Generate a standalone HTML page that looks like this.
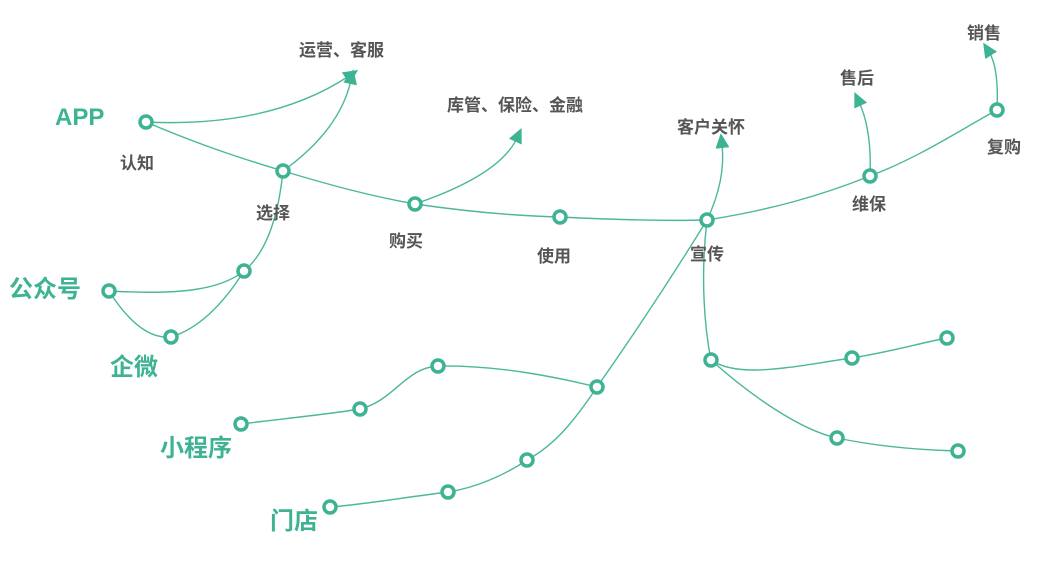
<!DOCTYPE html>
<html><head><meta charset="utf-8"><style>
body{margin:0;background:#fff}
svg text{font-family:"Liberation Sans","Noto Sans CJK SC",sans-serif;font-weight:bold}
</style></head><body>
<svg width="1050" height="564" viewBox="0 0 1050 564" xmlns="http://www.w3.org/2000/svg">
<defs><marker id="a" markerWidth="16" markerHeight="14" refX="4" refY="7" orient="auto" markerUnits="userSpaceOnUse"><path d="M0,0 L15,7 L0,14 z" fill="#3db394"/></marker></defs>
<g fill="none" stroke="#4cb79a" stroke-width="1.4">
<path d="M146,122 C200,145 240,158 283,171 C330,185 370,196 415,204 C470,212 520,216 560,217 C620,220 670,221 707,220 C770,210 820,196 870,176 C920,157 960,130 997,110"/>
<path d="M146,122 Q270,128 349,76" marker-end="url(#a)"/>
<path d="M283,171 Q340,130 351,80" marker-end="url(#a)"/>
<path d="M415,204 Q500,175 517,138" marker-end="url(#a)"/>
<path d="M707,220 Q726,180 722,144" marker-end="url(#a)"/>
<path d="M870,176 Q872,130 859,102" marker-end="url(#a)"/>
<path d="M997,110 Q999,68 989,52" marker-end="url(#a)"/>
<path d="M109,291 C180,295 220,290 244,271 C272,248 280,200 283,171"/>
<path d="M109,291 Q140,340 171,337 Q210,325 244,271"/>
<path d="M707,220 C670,280 630,340 597,387 C575,420 555,445 527,460 C505,475 475,488 448,492 C400,498 360,505 330,507"/>
<path d="M241,424 C290,418 330,414 360,409 C395,400 405,368 438,366 C500,365 560,378 597,387"/>
<path d="M707,220 C700,280 705,330 711,360 C740,380 800,365 852,358 C890,352 920,343 947,338"/>
<path d="M711,360 C750,395 800,430 837,438 C880,447 920,450 958,451"/>
</g>
<g fill="#fff" stroke="#3db394" stroke-width="3.5">
<circle cx="146" cy="122" r="6"/><circle cx="283" cy="171" r="6"/><circle cx="415" cy="204" r="6"/>
<circle cx="560" cy="217" r="6"/><circle cx="707" cy="220" r="6"/><circle cx="870" cy="176" r="6"/>
<circle cx="997" cy="110" r="6"/><circle cx="109" cy="291" r="6"/><circle cx="171" cy="337" r="6"/>
<circle cx="244" cy="271" r="6"/><circle cx="241" cy="424" r="6"/><circle cx="360" cy="409" r="6"/>
<circle cx="438" cy="366" r="6"/><circle cx="597" cy="387" r="6"/><circle cx="527" cy="460" r="6"/>
<circle cx="448" cy="492" r="6"/><circle cx="330" cy="507" r="6"/><circle cx="711" cy="360" r="6"/>
<circle cx="852" cy="358" r="6"/><circle cx="947" cy="338" r="6"/><circle cx="837" cy="438" r="6"/>
<circle cx="958" cy="451" r="6"/>
</g>
<g fill="#3db394" font-size="24">
<text x="55" y="125">APP</text><text x="9" y="297">公众号</text><text x="110" y="375">企微</text>
<text x="160" y="456">小程序</text><text x="270" y="529">门店</text>
</g>
<g fill="#555" font-size="17">
<text x="120" y="169">认知</text><text x="256" y="219">选择</text><text x="389" y="247">购买</text>
<text x="537" y="262">使用</text><text x="690" y="260">宣传</text><text x="852" y="210">维保</text>
<text x="987" y="153">复购</text><text x="299" y="56">运营、客服</text><text x="447" y="111">库管、保险、金融</text>
<text x="677" y="133">客户关怀</text><text x="840" y="84">售后</text><text x="967" y="39">销售</text>
</g>
</svg>
</body></html>
